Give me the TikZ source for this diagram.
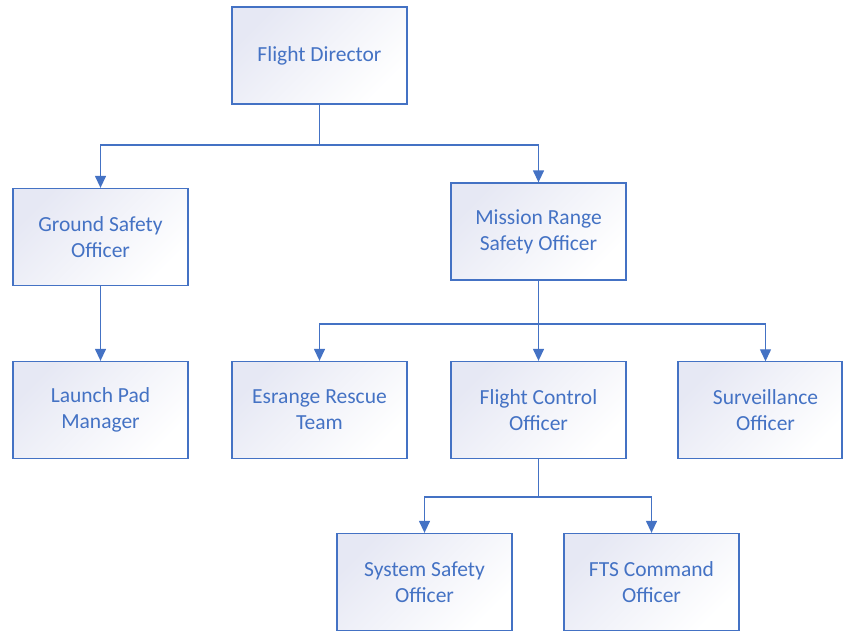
\documentclass[tikz,border=0pt]{standalone}
\usepackage{fontspec}
\setmainfont{Carlito}
\usetikzlibrary{arrows.meta}
\definecolor{bblue}{HTML}{4472C4}
\definecolor{lav}{HTML}{E6E8F4}
\begin{document}
\begin{tikzpicture}[x=1pt,y=-1pt,
  box/.style={draw=bblue,line width=1.3pt,top color=lav,bottom color=white,shading angle=45,
    minimum width=175pt,minimum height=97pt,inner sep=0pt,align=center,
    text=bblue,font=\fontsize{21.5}{26}\selectfont},
  lbl/.style={inner sep=0pt,align=center,text=bblue,font=\fontsize{21.5}{26}\selectfont},
  conn/.style={draw=bblue,line width=1.3pt},
  arr/.style={conn,-{Triangle[width=11pt,length=12pt]}}]
\useasboundingbox[clip] (0,0) rectangle (843,634);
\node[box] (fd) at (319.5,55.5) {Flight Director};
\node[box] (gso) at (100.5,237) {Ground Safety\\Officer};
\node[box] (mrso) at (538.5,231.5) {Mission Range\\Safety Officer};
\node[box] (lpm) at (100.5,410) {Launch Pad\\Manager};
\node[box] (ert) at (319.5,410) {Esrange Rescue\\Team};
\node[box] (fco) at (538.5,410) {Flight Control\\Officer};
\path[draw=bblue,line width=1.3pt,top color=lav,bottom color=white,shading angle=45] (678,361.5) rectangle (842,458.5);
\node[lbl,minimum width=175pt,minimum height=97pt] (so) at (765.5,410) {Surveillance\\Officer};
\node[box] (sso) at (424.5,582) {System Safety\\Officer};
\node[box] (fts) at (651.5,582) {FTS Command\\Officer};
\coordinate (j1) at (319.5,145);
\coordinate (j2) at (538.5,324);
\coordinate (j3) at (538.5,497);
\draw[conn] (fd.south) -- (j1);
\draw[arr] (j1) -| (gso.north);
\draw[arr] (j1) -| (mrso.north);
\draw[arr] (gso.south) -- (lpm.north);
\draw[conn] (mrso.south) -- (j2);
\draw[arr] (j2) -| (ert.north);
\draw[arr] (j2) -- (fco.north);
\draw[arr] (j2) -| (so.north);
\draw[conn] (fco.south) -- (j3);
\draw[arr] (j3) -| (sso.north);
\draw[arr] (j3) -| (fts.north);
\end{tikzpicture}
\end{document}
